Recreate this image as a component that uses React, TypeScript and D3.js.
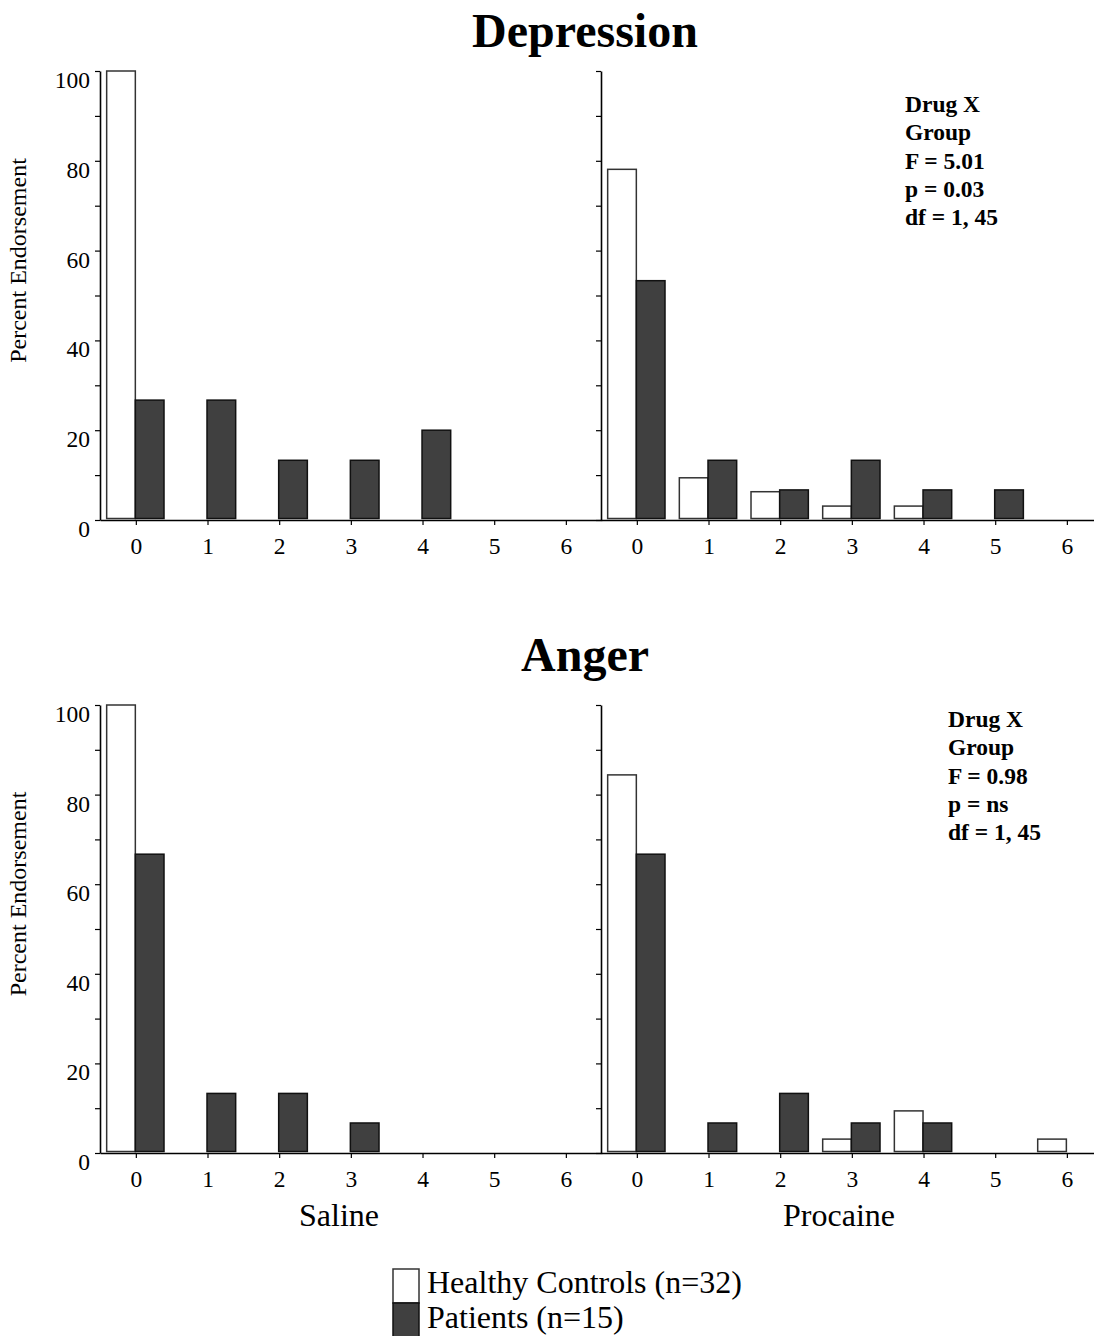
import { useEffect, useRef } from 'react';
import * as d3 from 'd3';

// number of endorsed items (x) -> percent of each group
const categories = [0, 1, 2, 3, 4, 5, 6];
const yTicks = [0, 10, 20, 30, 40, 50, 60, 70, 80, 90, 100];

const depSalineHealthy = [100, 0, 0, 0, 0, 0, 0];
const depSalinePatients = [26.7, 26.7, 13.3, 13.3, 20, 0, 0];
const depProcaineHealthy = [78.1, 9.4, 6.3, 3.1, 3.1, 0, 0];
const depProcainePatients = [53.3, 13.3, 6.7, 13.3, 6.7, 6.7, 0];

const angSalineHealthy = [100, 0, 0, 0, 0, 0, 0];
const angSalinePatients = [66.7, 13.3, 13.3, 6.7, 0, 0, 0];
const angProcaineHealthy = [84.4, 0, 0, 3.1, 9.4, 0, 3.1];
const angProcainePatients = [66.7, 6.7, 13.3, 6.7, 6.7, 0, 0];

const titles = ['Depression', 'Anger'];
const drugLabels = ['Saline', 'Procaine'];
const depStats = ['Drug X', 'Group', 'F = 5.01', 'p = 0.03', 'df = 1, 45'];
const angStats = ['Drug X', 'Group', 'F = 0.98', 'p = ns', 'df = 1, 45'];
const legendLabels = ['Healthy Controls (n=32)', 'Patients (n=15)'];

const W = 1094;
const H = 1336;
const FONT = '"Liberation Serif", "Times New Roman", serif';
const DARK = '#404040';

function App() {
  const svgRef = useRef<SVGSVGElement>(null);

  useEffect(() => {
    const svg = d3.select(svgRef.current);
    svg.selectAll('*').remove();

    const rows = [
      { yRange: [520, 71], title: titles[0], titleY: 47, stats: depStats, statsX: 905, statsY: 112,
        data: [[depSalineHealthy, depSalinePatients], [depProcaineHealthy, depProcainePatients]] },
      { yRange: [1153, 705], title: titles[1], titleY: 671, stats: angStats, statsX: 948, statsY: 727,
        data: [[angSalineHealthy, angSalinePatients], [angProcaineHealthy, angProcainePatients]] },
    ];
    const xRanges = [[100, 601.7], [601, 1102.7]];

    rows.forEach((row) => {
      const y = d3.scaleLinear().domain([0, 100]).range(row.yRange);

      svg.append('text')
        .attr('x', 585).attr('y', row.titleY)
        .attr('text-anchor', 'middle')
        .attr('font-family', FONT).attr('font-size', 48).attr('font-weight', 'bold')
        .text(row.title);

      svg.append('text')
        .attr('transform', `translate(26,${(row.yRange[0] + row.yRange[1]) / 2 - 35}) rotate(-90)`)
        .attr('text-anchor', 'middle')
        .attr('font-family', FONT).attr('font-size', 24)
        .text('Percent Endorsement');

      row.data.forEach(([healthy, patients], pi) => {
        const x = d3.scaleLinear().domain([-0.5, 6.5]).range(xRanges[pi]);
        const g = svg.append('g');
        const bw = x(0.4) - x(0);

        g.selectAll('rect.h')
          .data(categories.filter((c) => healthy[c] > 0))
          .join('rect')
          .attr('x', (c) => x(c) - bw - 0.5)
          .attr('width', bw)
          .attr('y', (c) => y(healthy[c]))
          .attr('height', (c) => y(0) - y(healthy[c]) - 1.5)
          .attr('fill', '#fff')
          .attr('stroke', '#333')
          .attr('stroke-width', 1.5);

        g.selectAll('rect.p')
          .data(categories.filter((c) => patients[c] > 0))
          .join('rect')
          .attr('x', (c) => x(c) - 0.5)
          .attr('width', bw)
          .attr('y', (c) => y(patients[c]))
          .attr('height', (c) => y(0) - y(patients[c]) - 1.5)
          .attr('fill', DARK)
          .attr('stroke', '#111')
          .attr('stroke-width', 1.5);

        const yAxis = g.append('g')
          .attr('transform', `translate(${xRanges[pi][0]},0)`)
          .call(d3.axisLeft(y).tickValues(yTicks).tickSize(5).tickSizeOuter(0).tickPadding(5)
            .tickFormat((d) => (pi === 0 && (d as number) % 20 === 0 ? String(d) : '')));

        const xAxis = g.append('g')
          .attr('transform', `translate(0,${y(0)})`)
          .call(d3.axisBottom(x).tickValues(categories).tickSize(5).tickSizeOuter(0).tickPadding(12)
            .tickFormat((d) => String(d)));

        [yAxis, xAxis].forEach((a) => {
          a.attr('font-family', FONT).attr('font-size', 23.5);
          a.selectAll('path').attr('stroke', '#000').attr('stroke-width', 1.6);
          a.selectAll('line').attr('stroke', '#000').attr('stroke-width', 1.2);
          a.selectAll('text').attr('fill', '#000');
        });
        yAxis.selectAll('text').attr('dy', '0.7em');
      });

      row.stats.forEach((s, i) => {
        svg.append('text')
          .attr('x', row.statsX).attr('y', row.statsY + i * 28.25)
          .attr('font-family', FONT).attr('font-size', 23.5).attr('font-weight', 'bold')
          .text(s);
      });
    });

    drugLabels.forEach((d, i) => {
      svg.append('text')
        .attr('x', i === 0 ? 339 : 839).attr('y', 1226)
        .attr('text-anchor', 'middle')
        .attr('font-family', FONT).attr('font-size', 32)
        .text(d);
    });

    // legend
    const lg = svg.append('g');
    lg.append('rect').attr('x', 393).attr('y', 1269).attr('width', 26).attr('height', 34)
      .attr('fill', '#fff').attr('stroke', '#333').attr('stroke-width', 1.5);
    lg.append('rect').attr('x', 393).attr('y', 1303).attr('width', 26).attr('height', 36)
      .attr('fill', DARK).attr('stroke', '#111').attr('stroke-width', 1.5);
    legendLabels.forEach((l, i) => {
      lg.append('text')
        .attr('x', 427).attr('y', 1293 + i * 35)
        .attr('font-family', FONT).attr('font-size', 32)
        .text(l);
    });
  }, []);

  return (
    <svg ref={svgRef} width={W} height={H}
      style={{ position: 'absolute', left: 0, top: 0, background: '#fff' }} />
  );
}

export default App;
